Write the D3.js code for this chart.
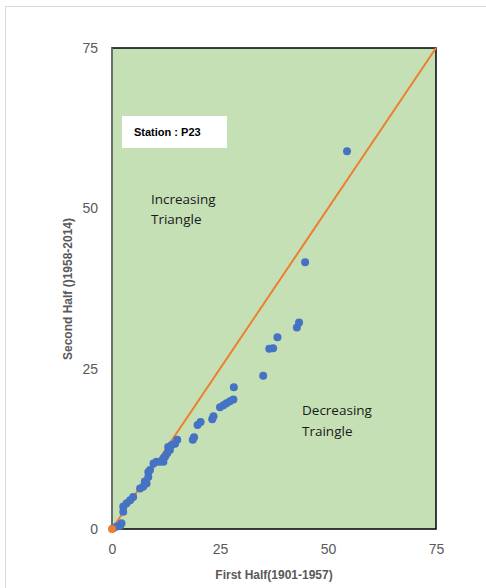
<!DOCTYPE html>
<html>
<head>
<meta charset="utf-8">
<script src="https://cdn.jsdelivr.net/npm/d3@7"></script>
<style>
  html, body { margin: 0; padding: 0; background: #fff; overflow: hidden; }
  svg { display: block; }
  .axis text { font-family: "Liberation Sans", Arial, sans-serif; font-size: 14px; fill: #595959; }
  .axisTitle { font-family: "Liberation Sans", Arial, sans-serif; font-size: 12px; font-weight: bold; fill: #595959; }
  .note { font-family: "Open Sans", sans-serif; font-size: 13.5px; fill: #1a1a1a; }
  .station { font-family: "Liberation Sans", Arial, sans-serif; font-size: 11px; font-weight: bold; fill: #000; }
</style>
</head>
<body>
<div class="chart"></div>
<script>
// observed values: first half vs second half
const firstHalf = [54.4, 44.7, 43.3, 42.8, 38.3, 37.3, 36.4, 35.0, 28.2, 28.1, 27.3, 26.5, 25.8, 25.0,
  23.5, 23.2, 20.5, 19.8, 19.0, 18.7, 15.1, 14.6, 13.8, 13.0, 13.4, 12.8, 12.3, 11.9, 11.9, 11.1,
  10.3, 9.6, 8.8, 8.4, 8.4, 8.0, 7.6, 7.2, 6.5, 4.9, 4.2, 3.4, 2.6, 2.6, 2.2, 1.9, 1.1, 0.3]
const secondHalf = [58.9, 41.6, 32.2, 31.4, 29.9, 28.2, 28.1, 23.9, 22.1, 20.2, 19.9, 19.6, 19.3, 19.0,
  17.6, 17.1, 16.7, 16.2, 14.3, 13.9, 13.9, 13.3, 13.1, 12.8, 12.3, 11.8, 11.3, 11.0, 10.5, 10.5,
  10.5, 10.2, 9.2, 8.9, 8.1, 7.1, 7.4, 6.6, 6.3, 5.0, 4.5, 4.0, 3.5, 2.7, 0.9, 0.5, 0.4, 0.1]
const refLine = [0, 75]
const ticks = [0, 25, 50, 75]

const points = firstHalf.map((x, i) => ({ x, y: secondHalf[i] }))

const width = 486, height = 588
const margins = { top: 48, right: 50, bottom: 59, left: 112 }
const innerWidth = width - margins.left - margins.right
const innerHeight = height - margins.top - margins.bottom

const root = d3.select('.chart')
  .append('svg')
  .attr('width', width)
  .attr('height', height)

// outer chart frame (runs off the right and bottom of the window)
root.append('path')
  .attr('d', `M5.5,${height}V6.5H${width}`)
  .attr('fill', 'none')
  .attr('stroke', '#d9d9d9')

const svg = root.append('g')
  .attr('transform', `translate(${margins.left}, ${margins.top})`)

const xScale = d3.scaleLinear().domain([0, 75]).range([0, innerWidth])
const yScale = d3.scaleLinear().domain([0, 75]).range([innerHeight, 0])

// plot area
svg.append('rect')
  .attr('width', innerWidth)
  .attr('height', innerHeight)
  .attr('fill', '#c5e0b4')
  .attr('stroke', '#000')
  .attr('stroke-width', 1.5)

svg.append('line')
  .attr('x1', 0).attr('x2', 0)
  .attr('y1', 0).attr('y2', innerHeight)
  .attr('stroke', '#7f7f7f')
  .attr('stroke-width', 1.5)

svg.append('g')
  .attr('class', 'axis')
  .attr('transform', `translate(0, ${innerHeight})`)
  .call(d3.axisBottom(xScale).tickValues(ticks).tickSize(0).tickPadding(15))

svg.append('g')
  .attr('class', 'axis')
  .call(d3.axisLeft(yScale).tickValues(ticks).tickSize(0).tickPadding(14))

d3.selectAll('.axis')
  .attr('font-size', null)
  .attr('font-family', null)
  .attr('fill', null)
  .selectAll('.domain').remove()

// station label
svg.append('rect')
  .attr('x', 10).attr('y', 68)
  .attr('width', 105).attr('height', 32)
  .attr('fill', '#fff')
svg.append('text')
  .attr('class', 'station')
  .attr('x', 22).attr('y', 88)
  .text('Station : P23')

// region notes
svg.append('text').attr('class', 'note')
  .attr('x', 39).attr('y', 156)
  .selectAll('tspan')
  .data(['Increasing', 'Triangle'])
  .join('tspan')
  .attr('x', 39)
  .attr('dy', (d, i) => i ? 20 : 0)
  .text(d => d)

svg.append('text').attr('class', 'note')
  .attr('x', 190).attr('y', 367)
  .selectAll('tspan')
  .data(['Decreasing', 'Traingle'])
  .join('tspan')
  .attr('x', 190)
  .attr('dy', (d, i) => i ? 21 : 0)
  .text(d => d)

// 1:1 line
svg.append('path')
  .datum(refLine)
  .attr('fill', 'none')
  .attr('stroke', '#ed7d31')
  .attr('stroke-width', 2)
  .attr('d', d3.line().x(d => xScale(d)).y(d => yScale(d)))

svg.selectAll('.dot')
  .data(points)
  .join('circle')
  .attr('class', 'dot')
  .attr('cx', d => xScale(d.x))
  .attr('cy', d => yScale(d.y))
  .attr('r', 4)
  .attr('fill', '#4472c4')

svg.append('circle')
  .attr('cx', xScale(refLine[0]))
  .attr('cy', yScale(refLine[0]))
  .attr('r', 4)
  .attr('fill', '#ed7d31')

// axis titles
root.append('text')
  .attr('class', 'axisTitle')
  .attr('x', margins.left + innerWidth / 2)
  .attr('y', 579)
  .attr('text-anchor', 'middle')
  .text('First Half(1901-1957)')

root.append('text')
  .attr('class', 'axisTitle')
  .attr('transform', 'translate(72, 289) rotate(-90)')
  .attr('text-anchor', 'middle')
  .text('Second Half ()1958-2014)')
</script>
</body>
</html>
